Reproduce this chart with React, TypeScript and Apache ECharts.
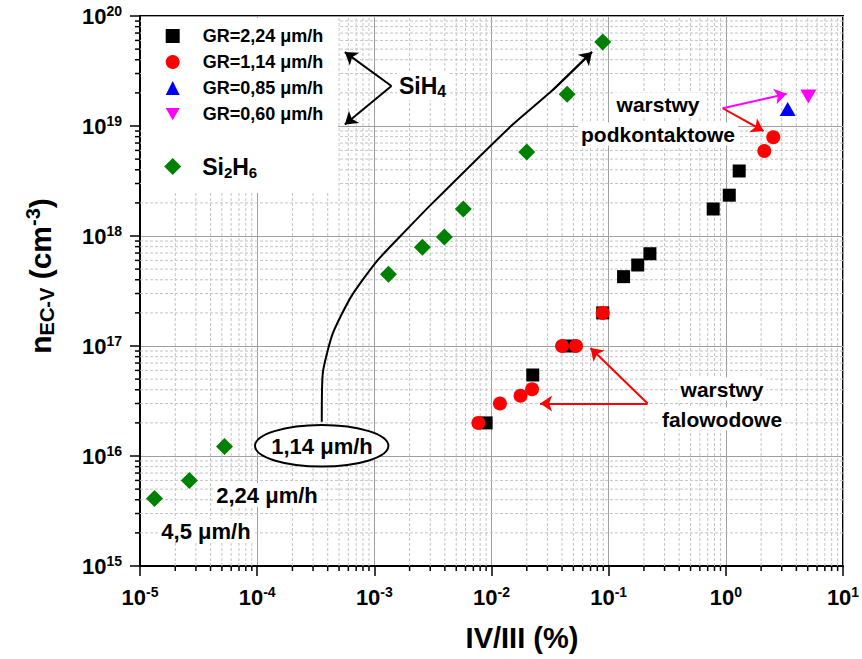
import React, { useEffect, useRef } from "react";
import * as echarts from "echarts";

const FONT = '"Liberation Sans", Arial, Helvetica, sans-serif';

const X_MIN = 1e-5;
const X_MAX = 10;
const Y_MIN = 1e15;
const Y_MAX = 1e20;

// SiH4 series, growth rate 2,24 µm/h
const gr224X = [0.009, 0.0225, 0.046, 0.089, 0.134, 0.177, 0.225, 0.78, 1.07, 1.3];
const gr224Y = [2.0e16, 5.45e16, 1.0e17, 2.0e17, 4.27e17, 5.45e17, 6.9e17, 1.76e18, 2.35e18, 3.9e18];

// SiH4 series, growth rate 1,14 µm/h
const gr114X = [0.00773, 0.0118, 0.0177, 0.0222, 0.04, 0.0527, 0.089, 2.13, 2.54];
const gr114Y = [2.0e16, 3.0e16, 3.53e16, 4.04e16, 1.0e17, 1.0e17, 2.0e17, 5.93e18, 7.9e18];

// SiH4 series, growth rate 0,85 µm/h
const gr085X = [3.37];
const gr085Y = [1.43e19];

// SiH4 series, growth rate 0,60 µm/h
const gr060X = [5.06];
const gr060Y = [1.85e19];

// Si2H6 series
const si2h6X = [1.33e-5, 2.64e-5, 5.26e-5, 1.32e-3, 2.57e-3, 3.96e-3, 5.75e-3, 0.02, 0.0442, 0.089];
const si2h6Y = [4.1e15, 6.0e15, 1.22e16, 4.5e17, 7.9e17, 9.8e17, 1.76e18, 5.8e18, 1.94e19, 5.8e19];

// SiH4 model curve for 1,14 µm/h
const curveX = [3.56e-4, 3.63e-4, 4.42e-4, 6.34e-4, 1.04e-3, 1.87e-3, 3.15e-3, 1.42e-2, 3.33e-2, 7.2e-2];
const curveY = [2.05e16, 5.65e16, 1.3e17, 2.81e17, 5.83e17, 1.13e18, 2.0e18, 9.66e18, 2.12e19, 4.7e19];

// annotation arrows: [fromX, fromY, toX, toY, colour]
const arrows: [number, number, number, number, string][] = [
  [1.4e-3, 2.31e19, 5.6e-4, 4.7e19, "#000"],
  [1.4e-3, 2.31e19, 5.6e-4, 1.03e19, "#000"],
  [0.94, 1.45e19, 2.1, 9.0e18, "#ff0000"],
  [0.94, 1.45e19, 3.3, 1.96e19, "#ff00ff"],
  [0.215, 3.0e16, 7.0e-2, 9.6e16, "#ff0000"],
  [0.215, 3.0e16, 2.6e-2, 3.0e16, "#ff0000"],
  [3.33e-2, 2.12e19, 7.2e-2, 4.7e19, "#000"],
];

const zip = (xs: number[], ys: number[]) => xs.map((x, i) => [x, ys[i]]);

// 2..9 subdivisions of every decade
const minorX: number[] = [];
for (let e = -5; e < 1; e++) for (let k = 2; k <= 9; k++) minorX.push(k * Math.pow(10, e));
const minorY: number[] = [];
for (let e = 15; e < 20; e++) for (let k = 2; k <= 9; k++) minorY.push(k * Math.pow(10, e));

const bold = { fontFamily: FONT, fontWeight: "bold" as const, color: "#000" };

const powerLabel = (v: number) => `{b|10}{s|${Math.round(Math.log10(v))}}`;
const powerRich = {
  b: { ...bold, fontSize: 22, lineHeight: 24 },
  s: { ...bold, fontSize: 14, lineHeight: 13, verticalAlign: "top" },
};

const MINOR_GRID = { stroke: "#c4c4c4", lineWidth: 1, lineDash: [3, 2] };
const TICK = { stroke: "#000", lineWidth: 1.5 };

const note = (x: number, y: number, text: string, size = 21, bg = true) => ({
  type: "text",
  x,
  y,
  z: 6,
  silent: true,
  style: {
    text,
    fill: "#000",
    fontFamily: FONT,
    fontWeight: "bold",
    fontSize: size,
    align: "center",
    verticalAlign: "middle",
    backgroundColor: bg ? "#fff" : "transparent",
    padding: [1, 3],
  },
});

const solid = (color: string) => ({ color, opacity: 1 });

function buildOption() {
  return {
    animation: false,
    backgroundColor: "#fff",
    textStyle: { fontFamily: FONT },
    grid: {
      left: 140,
      top: 16,
      width: 703,
      height: 550,
      show: true,
      borderColor: "#000",
      borderWidth: 2,
      containLabel: false,
      outerBoundsMode: "none",
    },
    xAxis: {
      type: "log",
      logBase: 10,
      min: X_MIN,
      max: X_MAX,
      splitNumber: 6,
      axisLine: { show: true, onZero: false, lineStyle: { color: "#000", width: 2 } },
      axisTick: { show: true, inside: false, length: 10, lineStyle: { color: "#000", width: 1.5 } },
      axisLabel: {
        margin: 19,
        showMinLabel: true,
        showMaxLabel: true,
        formatter: powerLabel,
        rich: powerRich,
      },
      splitLine: { show: true, lineStyle: { color: "#a0a0a0", width: 1 } },
      minorTick: { show: false },
      minorSplitLine: { show: false },
    },
    yAxis: {
      type: "log",
      logBase: 10,
      min: Y_MIN,
      max: Y_MAX,
      splitNumber: 5,
      axisLine: { show: true, onZero: false, lineStyle: { color: "#000", width: 2 } },
      axisTick: { show: true, inside: false, length: 10, lineStyle: { color: "#000", width: 1.5 } },
      axisLabel: {
        margin: 18,
        showMinLabel: true,
        showMaxLabel: true,
        formatter: powerLabel,
        rich: powerRich,
      },
      splitLine: { show: true, lineStyle: { color: "#a0a0a0", width: 1 } },
      minorTick: { show: false },
      minorSplitLine: { show: false },
    },
    legend: [
      {
        data: ["GR=2,24 μm/h", "GR=1,14 μm/h", "GR=0,85 μm/h", "GR=0,60 μm/h"],
        orient: "vertical",
        left: 165.7,
        top: 27,
        padding: 0,
        itemGap: 8,
        itemWidth: 14,
        itemHeight: 14,
        selectedMode: false,
        z: 5,
        textStyle: { ...bold, fontSize: 18, lineHeight: 18, padding: [0, 0, 0, 18] },
      },
      {
        data: ["Si2H6"],
        orient: "vertical",
        left: 164.2,
        top: 155,
        padding: 0,
        itemWidth: 17,
        itemHeight: 17,
        selectedMode: false,
        z: 5,
        formatter: () => "{m|Si}{s|2}{m|H}{s|6}",
        textStyle: {
          ...bold,
          fontSize: 23,
          padding: [0, 0, 0, 16],
          rich: {
            m: { ...bold, fontSize: 23, lineHeight: 26 },
            s: { ...bold, fontSize: 15, lineHeight: 15, verticalAlign: "bottom" },
          },
        },
      },
    ],
    series: [
      {
        name: "minor-x",
        type: "custom",
        coordinateSystem: "cartesian2d",
        silent: true,
        z: 1,
        data: minorX.map((v) => [v, Y_MIN]),
        encode: { x: 0, y: 1 },
        renderItem: (_p: any, api: any) => {
          const v = api.value(0);
          const a = api.coord([v, Y_MIN]);
          const b = api.coord([v, Y_MAX]);
          return {
            type: "group",
            children: [
              { type: "line", shape: { x1: a[0], y1: a[1], x2: b[0], y2: b[1] }, style: MINOR_GRID },
              { type: "line", shape: { x1: a[0], y1: a[1], x2: a[0], y2: a[1] + 5 }, style: TICK },
            ],
          };
        },
      },
      {
        name: "minor-y",
        type: "custom",
        coordinateSystem: "cartesian2d",
        silent: true,
        z: 1,
        data: minorY.map((v) => [X_MIN, v]),
        encode: { x: 0, y: 1 },
        renderItem: (_p: any, api: any) => {
          const v = api.value(1);
          const a = api.coord([X_MIN, v]);
          const b = api.coord([X_MAX, v]);
          return {
            type: "group",
            children: [
              { type: "line", shape: { x1: a[0], y1: a[1], x2: b[0], y2: b[1] }, style: MINOR_GRID },
              { type: "line", shape: { x1: a[0], y1: a[1], x2: a[0] - 5, y2: a[1] }, style: TICK },
            ],
          };
        },
      },
      {
        name: "SiH4 1,14",
        type: "line",
        data: zip(curveX, curveY),
        symbol: "none",
        smooth: 0.2,
        z: 4,
        lineStyle: { color: "#000", width: 2 },
        markLine: {
          silent: true,
          symbol: ["none", "arrow"],
          symbolSize: 12,
          label: { show: false },
          data: arrows.map(([x1, y1, x2, y2, c]) => [
            { coord: [x1, y1], lineStyle: { color: c, width: 2, type: "solid" }, itemStyle: { color: c } },
            { coord: [x2, y2], itemStyle: { color: c } },
          ]),
        },
      },
      {
        name: "Si2H6",
        type: "scatter",
        data: zip(si2h6X, si2h6Y),
        symbol: "diamond",
        symbolSize: 17,
        z: 4,
        itemStyle: solid("#008000"),
      },
      {
        name: "GR=2,24 μm/h",
        type: "scatter",
        data: zip(gr224X, gr224Y),
        symbol: "rect",
        symbolSize: 13,
        z: 4,
        itemStyle: solid("#000"),
      },
      {
        name: "GR=1,14 μm/h",
        type: "scatter",
        data: zip(gr114X, gr114Y),
        symbol: "circle",
        symbolSize: 14,
        z: 4,
        itemStyle: solid("#ff0000"),
      },
      {
        name: "GR=0,85 μm/h",
        type: "scatter",
        data: zip(gr085X, gr085Y),
        symbol: "triangle",
        symbolSize: [16, 14],
        z: 4,
        itemStyle: solid("#0000ff"),
      },
      {
        name: "GR=0,60 μm/h",
        type: "scatter",
        data: zip(gr060X, gr060Y),
        symbol: "path://M0,0L16,0L8,14Z",
        symbolSize: [16, 14],
        z: 4,
        itemStyle: solid("#ff00ff"),
      },
    ],
    graphic: [
      // white panel behind the legend
      {
        type: "rect",
        z: 2,
        silent: true,
        shape: { x: 141, y: 18, width: 197, height: 175 },
        style: { fill: "#fff" },
      },
      {
        type: "text",
        x: 397,
        y: 86,
        z: 6,
        silent: true,
        style: {
          text: "{m|SiH}{s|4}",
          align: "left",
          verticalAlign: "middle",
          backgroundColor: "#fff",
          padding: [1, 2],
          rich: {
            m: { ...bold, fontSize: 23, lineHeight: 26 },
            s: { ...bold, fontSize: 16, lineHeight: 16, verticalAlign: "bottom" },
          },
        },
      },
      note(658, 104, "warstwy"),
      note(658, 134, "podkontaktowe"),
      note(722, 389, "warstwy"),
      note(722, 419, "falowodowe"),
      {
        type: "ellipse",
        z: 5,
        silent: true,
        shape: { cx: 321.7, cy: 445.8, rx: 66.7, ry: 20.8 },
        style: { fill: "#fff", stroke: "#000", lineWidth: 2 },
      },
      note(322, 446, "1,14 μm/h", 22, false),
      note(267, 495, "2,24 μm/h", 22),
      note(206, 531, "4,5 μm/h", 22),
      // axis titles
      {
        type: "text",
        x: 522,
        y: 638,
        z: 6,
        silent: true,
        style: {
          text: "IV/III (%)",
          fill: "#000",
          fontFamily: FONT,
          fontWeight: "bold",
          fontSize: 29,
          align: "center",
          verticalAlign: "middle",
        },
      },
      {
        type: "text",
        x: 40,
        y: 276,
        rotation: Math.PI / 2,
        z: 6,
        silent: true,
        style: {
          text: "{m|n}{s|EC-V}{m| (cm}{p|-3}{m|)}",
          align: "center",
          verticalAlign: "middle",
          rich: {
            m: { ...bold, fontSize: 30, lineHeight: 34 },
            s: { ...bold, fontSize: 20, lineHeight: 26, verticalAlign: "bottom" },
            p: { ...bold, fontSize: 20, lineHeight: 20, verticalAlign: "top" },
          },
        },
      },
    ],
  };
}

export default function App() {
  const ref = useRef<HTMLDivElement>(null);
  useEffect(() => {
    document.body.style.margin = "0";
    const chart = echarts.init(ref.current!, null, { renderer: "svg" });
    chart.setOption(buildOption() as any);
    return () => chart.dispose();
  }, []);
  return <div ref={ref} style={{ width: 862, height: 659 }} />;
}
